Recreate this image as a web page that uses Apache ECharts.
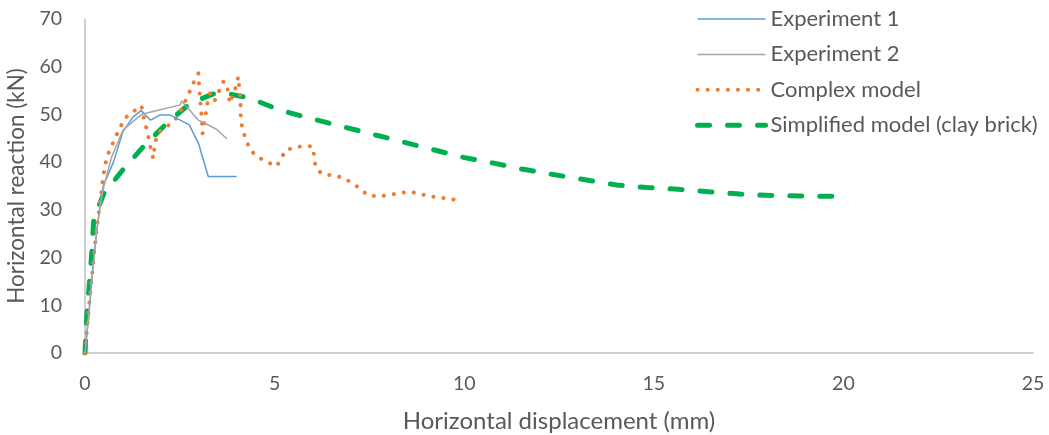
<!DOCTYPE html>
<html><head><meta charset="utf-8">
<script src="https://cdn.jsdelivr.net/npm/echarts@6/dist/echarts.min.js"></script>
<style>html,body{margin:0;padding:0;background:#fff}#c{width:1049px;height:435px}</style>
</head><body><div id="c"></div>
<script>
const seriesNames = ['Experiment 1', 'Experiment 2', 'Complex model', 'Simplified model (clay brick)'];
const xTicks = [0, 5, 10, 15, 20, 25];
const yTicks = [0, 10, 20, 30, 40, 50, 60, 70];

const experiment1 = [[0,0],[0.1,8],[0.2,17],[0.3,25],[0.4,31],[0.48,35],[0.75,40],[1.0,46.4],[1.27,49.5],[1.48,50.8],[1.73,48.8],[1.98,49.9],[2.24,49.9],[2.51,48.8],[2.75,47.8],[2.99,44],[3.25,37],[4.0,37]];
const experiment2 = [[0,0],[0.1,8],[0.2,17],[0.3,25],[0.4,31],[0.5,35],[0.7,41],[1.0,46.7],[1.49,50],[1.63,50.3],[2.51,52],[2.55,52.8],[2.68,51.6],[2.99,48.8],[3.47,46.9],[3.74,44.9]];
const complexModel = [[0,0],[0.04,4],[0.12,11],[0.2,17.5],[0.28,24],[0.35,28.6],[0.42,33],[0.48,37],[0.57,41],[0.7,43.3],[0.83,45.7],[1.05,49.2],[1.27,50.6],[1.49,51.8],[1.54,49.7],[1.61,47.4],[1.67,45.3],[1.76,41.8],[1.8,40.8],[1.85,44.1],[1.93,46.2],[2.15,47.4],[2.37,48.8],[2.51,50.6],[2.64,52.7],[2.75,54.6],[2.86,56.6],[2.99,58.6],[3.02,55],[3.05,52],[3.08,49],[3.1,46],[3.19,50.4],[3.23,52.5],[3.3,54.6],[3.43,53],[3.54,55],[3.65,56.9],[3.74,56.4],[3.82,52.3],[3.98,55.8],[4.04,57.9],[4.09,57.6],[4.1,53.2],[4.11,48.8],[4.16,46.7],[4.25,44.6],[4.35,42.6],[4.55,41.1],[4.79,40.1],[5.04,39.1],[5.17,40.5],[5.27,42.4],[5.52,43.1],[5.8,43.4],[6.0,43.3],[6.05,41],[6.08,38.9],[6.24,37.6],[6.52,37.2],[6.79,36.8],[7.03,35.7],[7.25,34.5],[7.45,33.1],[7.74,32.8],[8.0,33.1],[8.28,33.5],[8.55,33.8],[8.82,33.4],[9.1,32.8],[9.36,32.6],[9.63,32.3],[9.9,31.9]];
const simplifiedModel = [[0,0],[0.05,8],[0.12,15],[0.18,21],[0.23,28],[0.5,33.5],[1.0,38.4],[1.58,43.6],[2.15,48.1],[2.77,52.3],[3.38,54.3],[3.74,54.4],[4.35,53.4],[5.14,50.9],[5.93,49.2],[6.72,47.6],[7.56,45.9],[8.35,44.3],[9.14,42.7],[9.98,41.0],[10.77,39.8],[11.56,38.5],[12.35,37.4],[13.19,36.3],[14.02,35.2],[14.81,34.7],[15.65,34.3],[16.44,33.8],[17.27,33.3],[18.1,33.0],[18.9,32.9],[20.0,32.8]];

const FONT = 'Lato, "Open Sans", sans-serif';
const TXT = '#595959';
const colors = ['#5b9bd5', '#a5a5a5', '#ed7d31', '#00b050'];
const styles = [
  {width: 1.5, type: 'solid', cap: 'butt'},
  {width: 1.5, type: 'solid', cap: 'butt'},
  {width: 4, type: [0.1, 10], cap: 'round'},
  {width: 5, type: [12, 18], cap: 'round'}
];
const chart = echarts.init(document.getElementById('c'), null, {renderer: 'canvas'});
chart.setOption({
  animation: false,
  backgroundColor: '#fff',
  textStyle: {fontFamily: FONT},
  grid: {left: 85, right: 16, top: 19, bottom: 82, containLabel: false, outerBoundsMode: 'none'},
  legend: {
    orient: 'vertical', left: 690, top: 3, itemWidth: 68, itemHeight: 20, itemGap: 13.4,
    textStyle: {fontFamily: FONT, fontSize: 22, color: TXT, lineHeight: 20},
    itemStyle: {opacity: 0},
    data: seriesNames.map((n, i) => ({
      name: n,
      itemStyle: {opacity: 0},
      lineStyle: {color: colors[i], width: styles[i].width, type: styles[i].type, cap: styles[i].cap}
    }))
  },
  xAxis: {
    type: 'value', min: xTicks[0], max: xTicks[xTicks.length - 1], interval: 5,
    name: 'Horizontal displacement (mm)', nameLocation: 'middle', nameGap: 56,
    nameTextStyle: {fontFamily: FONT, fontSize: 24, color: TXT},
    axisLine: {lineStyle: {color: '#bfbfbf', width: 1.5}},
    axisTick: {show: false}, splitLine: {show: false},
    axisLabel: {fontFamily: FONT, fontSize: 19.5, color: TXT, margin: 21}
  },
  yAxis: {
    type: 'value', min: yTicks[0], max: yTicks[yTicks.length - 1], interval: 10,
    name: 'Horizontal reaction (kN)', nameLocation: 'middle', nameGap: 53,
    nameTextStyle: {fontFamily: FONT, fontSize: 22.5, color: TXT},
    axisLine: {show: true, lineStyle: {color: '#bfbfbf', width: 1.5}},
    axisTick: {show: false}, splitLine: {show: false},
    axisLabel: {fontFamily: FONT, fontSize: 19.5, color: TXT, margin: 23}
  },
  series: [
    {name: seriesNames[0], type: 'line', data: experiment1, symbol: 'none', z: 3,
     lineStyle: {color: colors[0], width: 1.5}, itemStyle: {color: colors[0]}},
    {name: seriesNames[1], type: 'line', data: experiment2, symbol: 'none', z: 3,
     lineStyle: {color: colors[1], width: 1.5}, itemStyle: {color: colors[1]}},
    {name: seriesNames[2], type: 'line', data: complexModel, symbol: 'none', z: 2,
     lineStyle: {color: colors[2], width: 4, type: [0.1, 10], cap: 'round'}, itemStyle: {color: colors[2]}},
    {name: seriesNames[3], type: 'line', data: simplifiedModel, symbol: 'none', z: 1,
     lineStyle: {color: colors[3], width: 5, type: [12, 18], cap: 'round'}, itemStyle: {color: colors[3]}}
  ]
});
</script></body></html>
